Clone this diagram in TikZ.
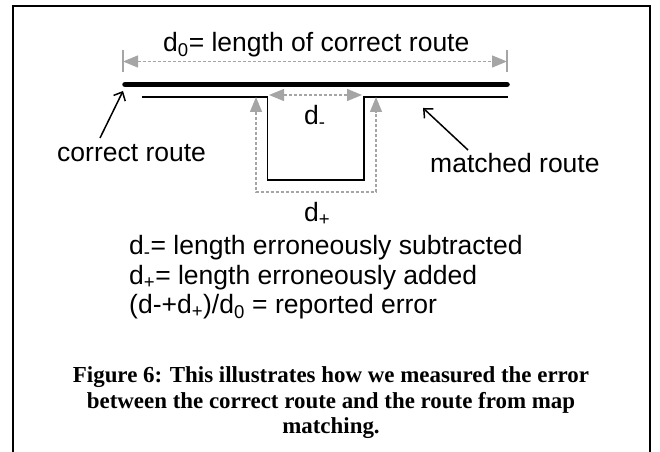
\documentclass[tikz,border=0pt]{standalone}
\usepackage{fontspec}
\setmainfont{Liberation Sans}
\newfontfamily\capfont{Liberation Serif}
\usetikzlibrary{arrows.meta}
\definecolor{dimgray}{RGB}{165,165,165}
\begin{document}
\begin{tikzpicture}[x=1bp,y=-1bp,
  lbl/.style={inner sep=0pt, anchor=base west, font=\fontsize{26.6}{30}\selectfont},
  captext/.style={inner sep=0pt, anchor=base, font=\capfont\bfseries\fontsize{23}{25}\selectfont},
  dimline/.style={draw=dimgray, line width=1.3bp, dash pattern=on 3bp off 2bp, {Triangle[length=15bp,width=12bp]}-{Triangle[length=15bp,width=12bp]}},
  ticklin/.style={draw=dimgray, line width=1.3bp},
  route/.style={draw=black, line width=1.6bp},
  correctroute/.style={draw=black, line width=5.5bp, line cap=round},
  pointer/.style={draw=black, line width=1.5bp, -{Straight Barb[length=7bp,width=13bp]}}
]
\useasboundingbox (0,0) rectangle (660,452);
% frame
\draw[line width=2bp] (13,452) -- (13,6.5) -- (650,6.5) -- (650,452);

% coordinates
\coordinate (cL) at (125,84.5);
\coordinate (cR) at (507,84.5);
\coordinate (m1) at (142,97);
\coordinate (m2) at (267.5,97);
\coordinate (m3) at (267.5,180);
\coordinate (m4) at (364,180);
\coordinate (m5) at (364,97);
\coordinate (m6) at (508,97);

% correct route (thick) and matched route (thin)
\draw[correctroute] (cL) -- (cR);
\draw[route] (m1) -- (m2) -- (m3) -- (m4) -- (m5) -- (m6);

% d0 dimension
\coordinate (t1a) at (123,50);
\coordinate (t1b) at (123,72);
\coordinate (t2a) at (507,50);
\coordinate (t2b) at (507,72);
\draw[ticklin] (t1a) -- (t1b);
\draw[ticklin] (t2a) -- (t2b);
\coordinate (d0L) at (123,61.5);
\coordinate (d0R) at (507,61.5);
\draw[dimline] (d0L) -- (d0R);
\node[lbl] (d0txt) at (163,52) {d\textsubscript{0}= length of correct route};

% d- dimension
\coordinate (dmL) at (269,95);
\coordinate (dmR) at (362,95);
\draw[dimline] (dmL) -- (dmR);
\node[lbl] (dmtxt) at (304,125) {d\textsubscript{-}};

% d+ dimension
\coordinate (dp1) at (256,97);
\coordinate (dp2) at (256,192);
\coordinate (dp3) at (376,192);
\coordinate (dp4) at (376,97);
\draw[dimline] (dp1) -- (dp2) -- (dp3) -- (dp4);
\node[lbl] (dptxt) at (304,222) {d\textsubscript{+}};

% labels with pointers
\node[lbl] (crtxt) at (57,162) {correct route};
\coordinate (crtail) at (100,138);
\coordinate (crtip) at (123,91);
\draw[pointer] (crtail) -- (crtip);

\node[lbl] (mrtxt) at (430,173) {matched route};
\coordinate (mrtail) at (468,150);
\coordinate (mrtip) at (423,108);
\draw[pointer] (mrtail) -- (mrtip);

% legend
\node[lbl] (leg1) at (129,255) {d\textsubscript{-}= length erroneously subtracted};
\node[lbl] (leg2) at (129,285) {d\textsubscript{+}= length erroneously added};
\node[lbl] (leg3) at (129,314) {(d-+d\textsubscript{+})/d\textsubscript{0} = reported error};

% caption
\node[captext] (cap1) at (331,382) {Figure 6: This illustrates how we measured the error};
\node[captext] (cap2) at (331,408) {between the correct route and the route from map};
\node[captext] (cap3) at (331,433) {matching.};
\end{tikzpicture}
\end{document}
